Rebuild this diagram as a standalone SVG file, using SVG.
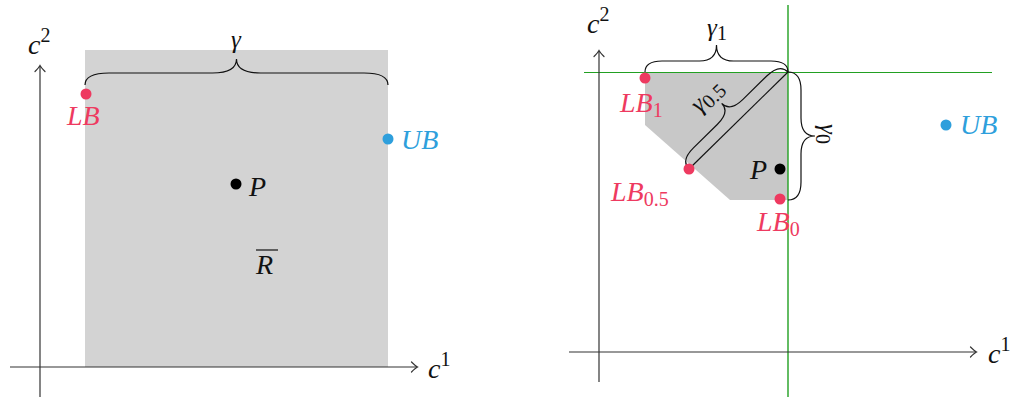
<svg xmlns="http://www.w3.org/2000/svg" width="1011" height="397" viewBox="0 0 1011 397" font-family="Liberation Serif, serif">
<style>
.m{font-style:italic;font-size:28px;fill:#111}
.g{font-style:italic;font-size:25px;fill:#111}
.n{font-style:normal;font-size:20px}
.red{fill:#ee3a60}
.blue{fill:#2e9fdc}
.ax{stroke:#333;stroke-width:1.2;fill:none;marker-end:url(#arr)}
.br{stroke:#111;stroke-width:1.2;fill:none}
.grn{stroke:#22a022}
</style>
<defs>
<marker id="arr" viewBox="-7 -7 9 14" refX="0" refY="0" markerWidth="9" markerHeight="14" markerUnits="userSpaceOnUse" orient="auto">
<path d="M-5.5,-5 Q-1.5,-1 0.5,0 Q-1.5,1 -5.5,5" fill="none" stroke="#333" stroke-width="1.2" stroke-linecap="round"/>
</marker>
</defs>
<rect width="1011" height="397" fill="#fff"/>

<g id="left-panel">
<g id="region-R"><rect x="85" y="50" width="303" height="317" fill="#d3d3d3"/>
<text class="m" font-family="Liberation Serif" x="256" y="274">R</text><line x1="256" y1="250" x2="278" y2="250" stroke="#111" stroke-width="1.2"/></g>
<g id="axes-left">
<line class="ax" x1="10" y1="367" x2="417" y2="367"/>
<line class="ax" x1="40" y1="397" x2="40" y2="66"/>
<text class="m" font-family="Liberation Serif" x="28" y="54">c<tspan class="n" dy="-12">2</tspan></text>
<text class="m" font-family="Liberation Serif" x="428" y="378">c<tspan class="n" dy="-12">1</tspan></text>
</g>
<g id="brace-gamma">
<path class="br" transform="translate(85,85)" d="M0,0 Q0,-12 24,-12 L127.5,-12 Q151.5,-12 151.5,-26 Q151.5,-12 175.5,-12 L279,-12 Q303,-12 303,0"/>
<text class="g" font-family="Liberation Serif" x="236" y="48" text-anchor="middle">γ</text>
</g>
<g id="LB"><circle cx="86" cy="94" r="5.5" class="red"/><text class="m red" font-family="Liberation Serif" x="67" y="125">LB</text></g>
<g id="UB"><circle cx="388" cy="139" r="5.5" class="blue"/><text class="m blue" font-family="Liberation Serif" x="401" y="149">UB</text></g>
<g id="P"><circle cx="236" cy="184" r="5.5" fill="#000"/><text class="m" font-family="Liberation Serif" x="249" y="196">P</text></g>
</g>

<g id="right-panel">
<g id="region"><polygon points="645,72 788,72 788,200 730,200 645,125" fill="#c8c8c8"/></g>
<g id="green-lines">
<line class="grn" stroke-width="1.1" x1="584" y1="72.5" x2="992" y2="72.5"/>
<line class="grn" stroke-width="1.4" x1="788" y1="5" x2="788" y2="397"/>
</g>
<g id="axes-right">
<line class="ax" x1="569" y1="352" x2="976" y2="352"/>
<line class="ax" x1="599" y1="382" x2="599" y2="51"/>
<text class="m" font-family="Liberation Serif" x="587" y="33">c<tspan class="n" dy="-12">2</tspan></text>
<text class="m" font-family="Liberation Serif" x="988" y="363">c<tspan class="n" dy="-12">1</tspan></text>
</g>
<g id="connectors">
<line x1="689" y1="169" x2="788" y2="72" stroke="#111" stroke-width="1.2"/>
<path class="br" transform="translate(645,72)" d="M0,0 Q0,-11 17,-11 L54.5,-11 Q71.5,-11 71.5,-27 Q71.5,-11 88.5,-11 L126,-11 Q143,-11 143,0"/>
<path class="br" transform="translate(788,72) rotate(90)" d="M0,0 Q0,-13 18,-13 L46,-13 Q64,-13 64,-27 Q64,-13 82,-13 L110,-13 Q128,-13 128,0"/>
<path class="br" transform="translate(689,169) rotate(-44.42)" d="M0,0 Q0,-12 18,-12 L51.3,-12 Q69.3,-12 69.3,-24 Q69.3,-12 87.3,-12 L120.6,-12 Q138.6,-12 138.6,0"/>
</g>
<g id="gamma-labels">
<text class="g" font-family="Liberation Serif" x="717" y="36" text-anchor="middle">γ<tspan class="n" font-size="17" dy="4">1</tspan></text>
<text class="g" font-family="Liberation Serif" transform="translate(788,72) rotate(90)" x="62" y="-32" text-anchor="middle">γ<tspan class="n" font-size="17" dy="4">0</tspan></text>
<text class="g" font-family="Liberation Serif" transform="translate(689,169) rotate(-44.42)" x="64" y="-32" text-anchor="middle">γ<tspan class="n" font-size="17" dy="4">0.5</tspan></text>
</g>
<g id="LB1"><circle cx="645" cy="78" r="5.5" class="red"/><text class="m red" font-family="Liberation Serif" x="620" y="112">LB<tspan class="n" dy="5">1</tspan></text></g>
<g id="LB05"><circle cx="689" cy="169" r="5.5" class="red"/><text class="m red" font-family="Liberation Serif" x="611" y="201">LB<tspan class="n" dy="5">0.5</tspan></text></g>
<g id="LB0"><circle cx="780" cy="199" r="5.5" class="red"/><text class="m red" font-family="Liberation Serif" x="757" y="231">LB<tspan class="n" dy="5">0</tspan></text></g>
<g id="P2"><circle cx="780" cy="169" r="5.5" fill="#000"/><text class="m" font-family="Liberation Serif" x="750" y="179">P</text></g>
<g id="UB2"><circle cx="946" cy="125" r="5.5" class="blue"/><text class="m blue" font-family="Liberation Serif" x="960" y="134">UB</text></g>
</g>
</svg>
